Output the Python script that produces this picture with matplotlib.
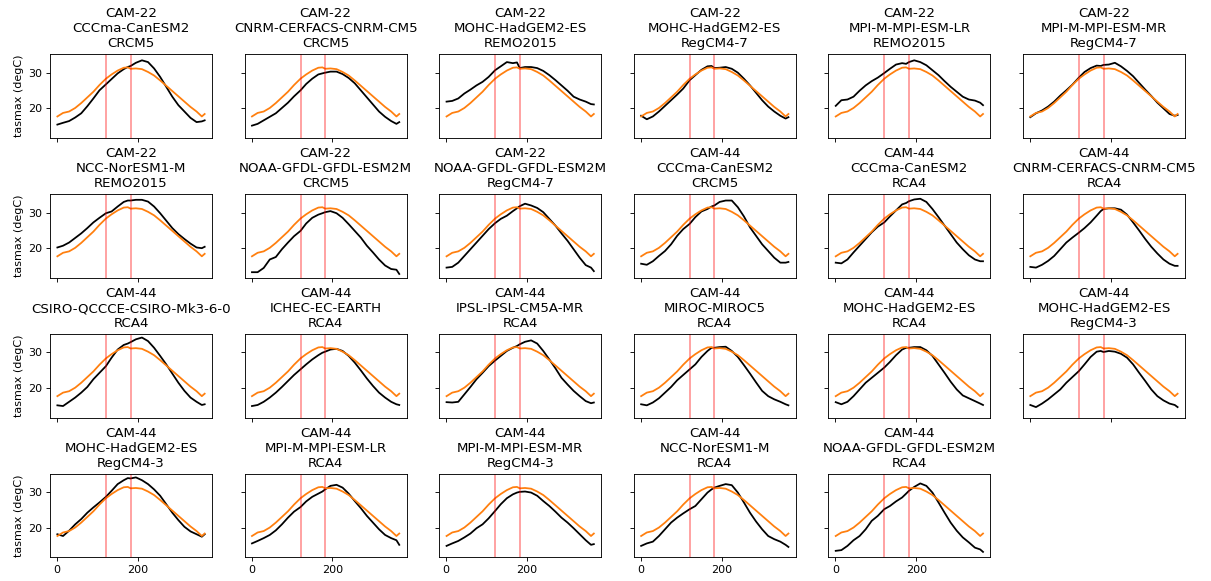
import matplotlib
matplotlib.use("Agg")
import matplotlib.pyplot as plt

days = [1, 15, 30, 45, 60, 75, 90, 105, 121, 135, 150, 165, 175, 182, 195,
        210, 225, 240, 255, 270, 285, 300, 315, 330, 345, 358, 365]

# observed climatology (same in every panel)
obs = [17.6, 18.6, 19.0, 20.0, 21.4, 23.0, 24.6, 26.5, 28.3, 29.5, 30.6, 31.4, 31.5, 31.1, 31.2,
       31.0, 30.2, 29.2, 27.8, 26.3, 24.8, 23.3, 21.8, 20.3, 19.0, 17.6, 18.3]

titles = [
    "CAM-22\nCCCma-CanESM2\nCRCM5",
    "CAM-22\nCNRM-CERFACS-CNRM-CM5\nCRCM5",
    "CAM-22\nMOHC-HadGEM2-ES\nREMO2015",
    "CAM-22\nMOHC-HadGEM2-ES\nRegCM4-7",
    "CAM-22\nMPI-M-MPI-ESM-LR\nREMO2015",
    "CAM-22\nMPI-M-MPI-ESM-MR\nRegCM4-7",
    "CAM-22\nNCC-NorESM1-M\nREMO2015",
    "CAM-22\nNOAA-GFDL-GFDL-ESM2M\nCRCM5",
    "CAM-22\nNOAA-GFDL-GFDL-ESM2M\nRegCM4-7",
    "CAM-44\nCCCma-CanESM2\nCRCM5",
    "CAM-44\nCCCma-CanESM2\nRCA4",
    "CAM-44\nCNRM-CERFACS-CNRM-CM5\nRCA4",
    "CAM-44\nCSIRO-QCCCE-CSIRO-Mk3-6-0\nRCA4",
    "CAM-44\nICHEC-EC-EARTH\nRCA4",
    "CAM-44\nIPSL-IPSL-CM5A-MR\nRCA4",
    "CAM-44\nMIROC-MIROC5\nRCA4",
    "CAM-44\nMOHC-HadGEM2-ES\nRCA4",
    "CAM-44\nMOHC-HadGEM2-ES\nRegCM4-3",
    "CAM-44\nMOHC-HadGEM2-ES\nRegCM4-3",
    "CAM-44\nMPI-M-MPI-ESM-LR\nRCA4",
    "CAM-44\nMPI-M-MPI-ESM-MR\nRegCM4-3",
    "CAM-44\nNCC-NorESM1-M\nRCA4",
    "CAM-44\nNOAA-GFDL-GFDL-ESM2M\nRCA4",
]

# model tasmax, one list per simulation
cam22_cccma_crcm5 = [15.3, 15.8, 16.3, 17.3, 18.5, 20.5, 22.7, 25.0, 26.7, 28.2, 29.8, 31.0, 31.6, 31.9, 32.8,
                     33.5, 33.0, 31.2, 28.8, 26.0, 23.2, 20.8, 19.0, 17.2, 16.0, 16.2, 16.5]
cam22_cnrm_crcm5 = [15.0, 15.5, 16.5, 17.5, 18.5, 20.0, 21.5, 23.3, 25.0, 26.8, 28.3, 29.5, 29.8, 30.0, 30.3,
                    30.3, 29.6, 28.5, 27.0, 25.0, 23.0, 21.0, 19.0, 17.5, 16.3, 15.5, 16.0]
cam22_mohc_remo = [21.8, 22.0, 22.7, 24.1, 25.2, 26.4, 27.4, 28.8, 30.7, 31.8, 33.0, 32.7, 32.9, 31.3, 31.6,
                   31.6, 31.3, 30.5, 29.3, 27.9, 26.4, 24.9, 23.2, 22.4, 21.8, 21.1, 21.0]
cam22_mohc_regcm = [17.8, 16.8, 17.6, 19.0, 20.6, 22.2, 23.8, 25.5, 27.9, 29.3, 30.8, 31.8, 31.9, 31.3, 31.4,
                    31.6, 31.1, 30.0, 28.3, 26.4, 24.3, 22.2, 20.4, 19.0, 17.8, 17.0, 17.4]
cam22_mpilr_remo = [20.6, 22.2, 22.4, 23.2, 24.9, 26.4, 27.6, 28.6, 29.9, 31.1, 32.3, 32.7, 32.5, 33.0, 33.5,
                    33.0, 32.1, 30.7, 29.3, 27.6, 26.0, 24.6, 23.2, 22.4, 22.1, 21.5, 20.8]
cam22_mpimr_regcm = [17.4, 18.5, 19.3, 20.4, 21.8, 23.5, 25.0, 26.6, 28.6, 30.2, 31.3, 32.0, 31.9, 32.2, 32.3,
                     32.8, 31.8, 30.5, 29.0, 27.1, 25.2, 23.4, 21.5, 19.9, 18.3, 17.8, 18.0]
cam22_ncc_remo = [20.1, 20.6, 21.5, 22.8, 24.1, 25.6, 27.2, 28.5, 29.8, 30.3, 31.7, 33.0, 33.4, 33.4, 33.6,
                  33.6, 33.1, 31.7, 29.8, 27.7, 25.6, 23.9, 22.5, 21.2, 20.1, 19.9, 20.3]
cam22_noaa_crcm5 = [13.1, 13.1, 14.3, 16.7, 17.4, 19.6, 21.5, 23.3, 24.8, 26.9, 28.5, 29.4, 29.8, 30.1, 30.4,
                    29.8, 28.5, 26.7, 24.8, 22.9, 20.6, 18.7, 16.7, 15.0, 14.0, 13.8, 12.6]
cam22_noaa_regcm = [14.4, 14.6, 15.8, 17.7, 19.6, 21.5, 23.4, 25.3, 27.0, 28.2, 29.1, 30.4, 31.2, 31.8, 32.5,
                    32.0, 31.3, 30.1, 28.2, 26.3, 24.1, 22.0, 19.6, 17.2, 15.1, 14.4, 13.4]
cam44_cccma_crcm5 = [15.5, 15.2, 16.2, 17.7, 19.1, 21.0, 23.4, 25.3, 26.8, 28.7, 30.3, 31.0, 31.7, 32.0, 33.0,
                     33.4, 33.4, 31.5, 28.9, 25.8, 23.4, 21.0, 19.1, 17.2, 15.8, 15.8, 16.0]
cam44_cccma_rca4 = [15.8, 15.6, 16.7, 18.7, 20.6, 22.5, 24.4, 26.0, 27.2, 28.9, 30.6, 32.3, 32.7, 33.2, 33.7,
                    33.9, 33.0, 31.0, 28.7, 26.3, 23.9, 21.5, 19.6, 17.9, 16.7, 16.2, 16.2]
cam44_cnrm_rca4 = [14.6, 14.4, 15.2, 16.3, 17.7, 19.6, 21.5, 22.9, 24.3, 25.6, 27.2, 29.1, 30.4, 31.0, 31.2,
                   31.2, 30.8, 29.4, 27.2, 24.9, 22.5, 20.3, 18.4, 16.7, 15.5, 14.9, 14.9]
cam44_csiro_rca4 = [15.0, 14.8, 16.0, 17.2, 18.6, 20.2, 22.4, 24.2, 26.1, 28.5, 30.8, 32.1, 32.5, 32.9, 33.7,
                    34.2, 33.2, 31.3, 29.0, 26.6, 24.0, 21.4, 19.1, 17.2, 16.0, 15.1, 15.3]
cam44_ichec_rca4 = [14.8, 15.1, 16.0, 17.2, 18.6, 20.2, 21.9, 23.6, 25.2, 26.6, 28.0, 29.2, 29.9, 30.2, 30.8,
                    31.0, 30.4, 29.0, 27.1, 24.9, 22.6, 20.5, 18.6, 17.2, 16.0, 15.3, 15.1]
cam44_ipsl_rca4 = [15.9, 15.8, 16.0, 18.1, 20.2, 22.4, 24.2, 26.1, 27.7, 29.0, 30.4, 31.3, 31.8, 32.3, 33.0,
                   33.4, 32.5, 30.4, 28.0, 25.5, 22.8, 20.9, 19.1, 17.6, 16.2, 15.6, 15.8]
cam44_miroc_rca4 = [15.3, 15.0, 15.8, 17.0, 18.6, 20.2, 22.1, 23.6, 25.2, 26.6, 28.7, 30.4, 31.3, 31.3, 31.5,
                    31.6, 30.4, 28.7, 26.4, 24.0, 21.5, 19.1, 17.6, 16.7, 16.0, 15.3, 15.0]
cam44_mohc_rca4 = [15.9, 15.3, 16.0, 17.6, 19.5, 21.4, 22.8, 24.2, 25.7, 27.3, 29.2, 30.8, 31.3, 31.3, 31.5,
                   31.5, 30.6, 29.0, 26.6, 24.2, 21.7, 19.5, 17.8, 17.0, 16.2, 15.5, 15.1]
cam44_mohc_regcm_a = [15.1, 14.5, 15.5, 16.7, 18.1, 19.5, 21.4, 23.0, 24.7, 26.6, 28.7, 30.2, 30.4, 30.1, 30.4,
                      30.2, 29.6, 28.5, 26.6, 24.2, 21.9, 19.5, 17.6, 16.4, 15.5, 15.1, 14.5]
cam44_mohc_regcm_b = [18.1, 17.6, 19.1, 20.9, 22.4, 24.2, 25.7, 27.1, 28.7, 30.4, 32.3, 33.4, 34.0, 33.9, 34.2,
                      33.4, 32.3, 30.8, 29.0, 26.6, 24.2, 22.1, 20.2, 18.9, 18.1, 17.4, 18.1]
cam44_mpilr_rca4 = [15.5, 16.2, 17.0, 17.9, 19.2, 20.9, 22.8, 24.5, 25.8, 27.4, 28.7, 29.6, 30.2, 30.8, 31.8,
                    32.1, 31.3, 29.6, 27.5, 25.5, 23.3, 21.4, 19.5, 17.9, 17.0, 16.4, 15.1]
cam44_mpimr_regcm = [14.8, 15.5, 16.2, 17.2, 18.3, 19.8, 20.9, 22.6, 24.7, 26.6, 28.3, 29.4, 29.9, 30.1, 30.2,
                     29.9, 29.0, 27.5, 26.1, 24.5, 22.8, 21.4, 19.8, 18.1, 16.4, 15.1, 15.3]
cam44_ncc_rca4 = [14.8, 15.5, 16.0, 17.6, 19.5, 21.4, 22.8, 24.0, 25.2, 26.1, 28.0, 29.9, 30.8, 31.3, 31.8,
                  32.3, 32.0, 29.9, 27.1, 24.2, 21.7, 19.5, 17.6, 16.7, 16.0, 15.1, 14.5]
cam44_noaa_rca4 = [13.4, 13.6, 14.8, 16.4, 17.6, 19.5, 21.9, 23.3, 25.2, 26.1, 27.4, 28.5, 29.6, 30.4, 31.5,
                   32.5, 31.8, 29.9, 27.1, 24.2, 21.4, 19.1, 17.2, 15.8, 14.3, 13.8, 13.1]

series = [cam22_cccma_crcm5, cam22_cnrm_crcm5, cam22_mohc_remo, cam22_mohc_regcm,
          cam22_mpilr_remo, cam22_mpimr_regcm, cam22_ncc_remo, cam22_noaa_crcm5,
          cam22_noaa_regcm, cam44_cccma_crcm5, cam44_cccma_rca4, cam44_cnrm_rca4,
          cam44_csiro_rca4, cam44_ichec_rca4, cam44_ipsl_rca4, cam44_miroc_rca4,
          cam44_mohc_rca4, cam44_mohc_regcm_a, cam44_mohc_regcm_b, cam44_mpilr_rca4,
          cam44_mpimr_regcm, cam44_ncc_rca4, cam44_noaa_rca4]

# season markers (1 May, 1 July)
season_days = [121, 182]

DPI = 80
fig, axes = plt.subplots(4, 6, figsize=(1211 / DPI, 581 / DPI), dpi=DPI,
                         sharex=True, sharey=True)
fig.subplots_adjust(left=0.0413, right=0.9785, top=0.907, bottom=0.0405,
                    wspace=0.201, hspace=0.667)

for i, ax in enumerate(axes.flat):
    if i >= len(series):
        ax.axis("off")
        continue
    ax.plot(days, series[i], color="black", lw=1.6)
    ax.plot(days, obs, color="tab:orange", lw=1.6)
    for d in season_days:
        ax.axvline(d, color="red", alpha=0.4, lw=1.6)
    ax.set_title(titles[i])
    if i % 6 == 0:
        ax.set_ylabel("tasmax (degC)")

axes[0, 0].set_xticks([0, 200])
axes[0, 0].set_yticks([20, 30])
# column 6 bottom panel is empty, keep labels off the panel above it
axes[2, 5].xaxis.set_tick_params(labelbottom=False)

fig.savefig("out.png", dpi=DPI)
